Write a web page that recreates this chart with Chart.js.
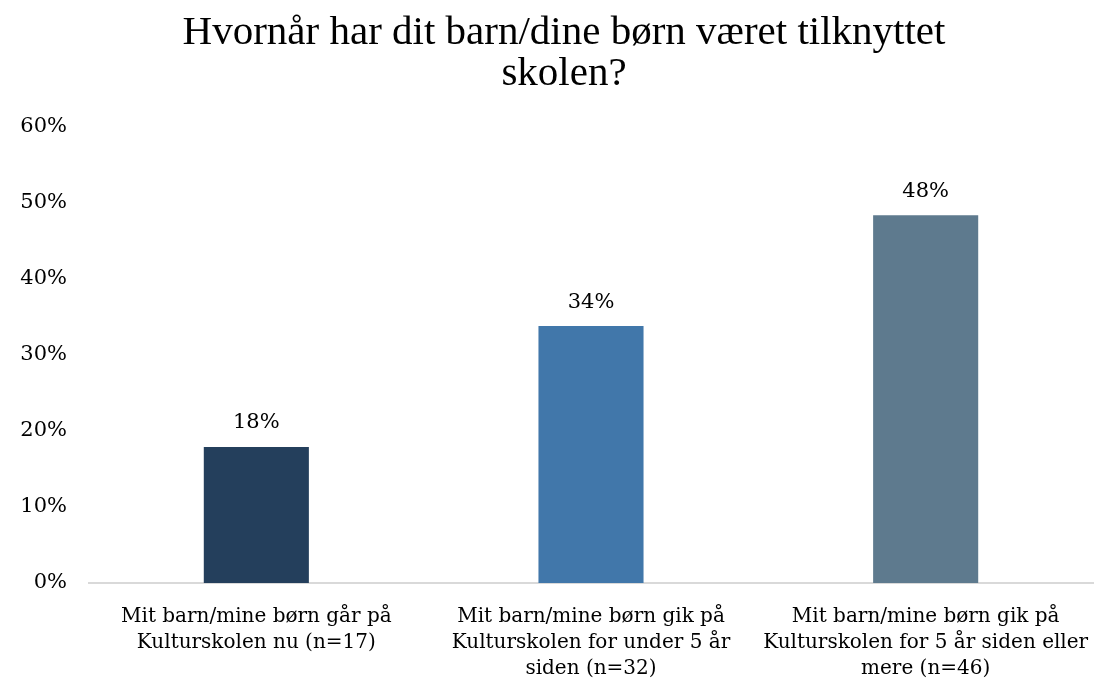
<!DOCTYPE html>
<html>
<head>
<meta charset="utf-8">
<script src="https://cdn.jsdelivr.net/npm/chart.js@4"></script>
<style>
  html, body { margin: 0; padding: 0; background: #fff; }
  #wrap { width: 1096px; height: 680px; }
</style>
</head>
<body>
<div id="wrap"><canvas id="chart" width="1096" height="680"></canvas></div>
<script>
const titleLines = ["Hvornår har dit barn/dine børn været tilknyttet", "skolen?"];
const categories = [
  ["Mit barn/mine børn går på", "Kulturskolen nu (n=17)"],
  ["Mit barn/mine børn gik på", "Kulturskolen for under 5 år", "siden (n=32)"],
  ["Mit barn/mine børn gik på", "Kulturskolen for 5 år siden eller", "mere (n=46)"]
];
const shares = [17.9, 33.8, 48.4];
const barColors = ["#243f5c", "#4177aa", "#5e7a8e"];

// title, drawn a bit right of the canvas centre like the original
const titlePlugin = {
  id: "titleText",
  afterDraw(chart) {
    const ctx = chart.ctx;
    ctx.save();
    ctx.font = "41px 'Liberation Serif'";
    ctx.fillStyle = "#000";
    ctx.textAlign = "center";
    ctx.textBaseline = "middle";
    titleLines.forEach((line, i) => ctx.fillText(line, 564, 33 + i * 41));
    ctx.restore();
  }
};

// labels over the bars
const barLabels = {
  id: "barLabels",
  afterDatasetsDraw(chart) {
    const ctx = chart.ctx;
    const meta = chart.getDatasetMeta(0);
    ctx.save();
    ctx.font = "21px 'DejaVu Serif'";
    ctx.fillStyle = "#000";
    ctx.textAlign = "center";
    ctx.textBaseline = "middle";
    meta.data.forEach((bar, i) => {
      ctx.fillText(Math.round(shares[i]) + "%", bar.x, bar.y - 24);
    });
    ctx.restore();
  }
};

new Chart(document.getElementById("chart").getContext("2d"), {
  type: "bar",
  data: {
    labels: categories,
    datasets: [{
      data: shares,
      backgroundColor: barColors,
      barPercentage: 0.314,
      categoryPercentage: 1
    }]
  },
  options: {
    responsive: false,
    animation: false,
    layout: { padding: { right: 3, top: 127, bottom: 0 } },
    plugins: {
      legend: { display: false },
      tooltip: { enabled: false },
      title: { display: false }
    },
    scales: {
      x: {
        grid: { display: false, drawTicks: false },
        border: { color: "#d9d9d9", width: 2 },
        ticks: {
          color: "#000",
          font: { family: "'DejaVu Serif'", size: 20, lineHeight: 1.3 },
          padding: 21,
          maxRotation: 0,
          autoSkip: false
        },
        afterFit(scale) {
          scale.height = 97;
          scale.paddingLeft = 0;
          scale.paddingRight = 0;
        }
      },
      y: {
        min: 0,
        max: 60,
        grid: { display: false, drawTicks: false },
        border: { display: false },
        ticks: {
          stepSize: 10,
          color: "#000",
          font: { family: "'DejaVu Serif'", size: 21 },
          padding: 22,
          callback: v => v + "%"
        },
        afterFit(scale) { scale.width = 89; }
      }
    }
  },
  plugins: [titlePlugin, barLabels]
});
</script>
</body>
</html>
